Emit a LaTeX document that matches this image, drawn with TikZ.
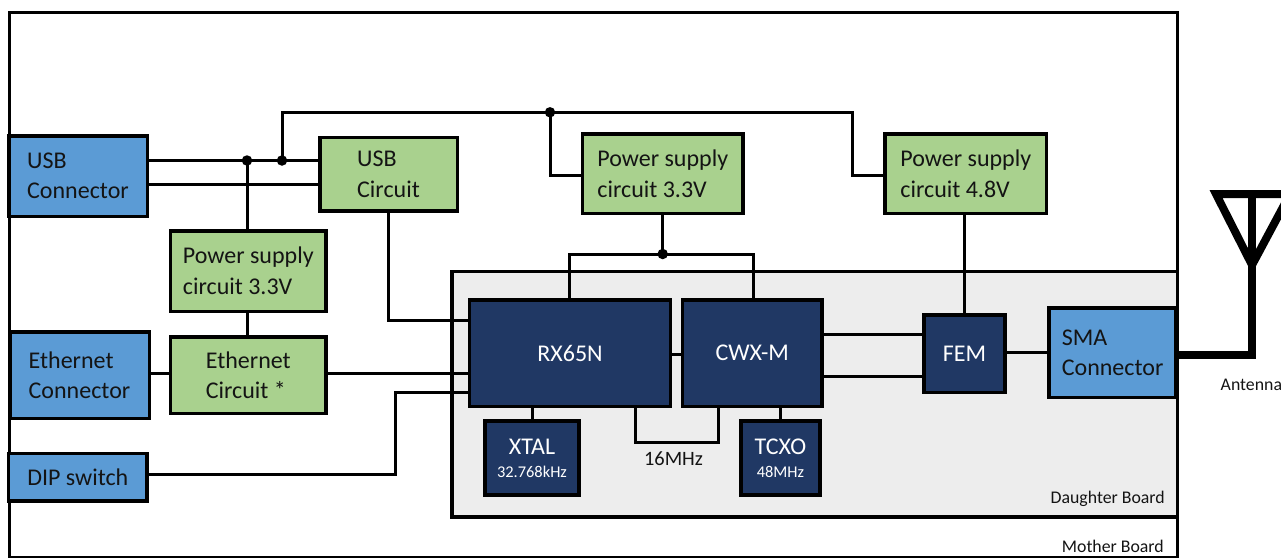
\documentclass[tikz,border=0pt]{standalone}
\usepackage{fontspec}
\setmainfont{Carlito}
\newcommand\fsB{\fontsize{24}{30.5}\selectfont}
\newcommand\fsM{\fontsize{20.4}{24}\selectfont}
\newcommand\fsS{\fontsize{16.4}{20}\selectfont}
\newcommand\fsL{\fontsize{17.8}{21}\selectfont}
\definecolor{cblue}{HTML}{5B9BD5}
\definecolor{cgreen}{HTML}{A9D18E}
\definecolor{cnavy}{HTML}{203864}
\definecolor{cgrey}{HTML}{EDEDED}
\definecolor{ctxt}{HTML}{141414}
\tikzset{
  box/.style={draw=black, line width=3.5pt, inner sep=0pt, align=left, font=\fsB, text=ctxt},
  bluebox/.style={box, fill=cblue},
  greenbox/.style={box, fill=cgreen},
  navybox/.style={box, fill=cnavy, text=white, align=center},
  wire/.style={line width=3pt},
  jdot/.style={circle, fill=black, inner sep=0pt, minimum size=10.5pt},
  ant/.style={line width=8pt, line join=miter},
  lbl/.style={inner sep=0pt, text=ctxt}
}
\begin{document}
\begin{tikzpicture}[x=1pt,y=-1pt]
\useasboundingbox (0,0) rectangle (1281,557);
% boards
\draw[line width=3.5pt, fill=white] (9.3,12.3) rectangle (1177.3,558.2);
\draw[line width=3.5pt, fill=cgrey] (452,271.5) rectangle (1177.3,517);
% junction coordinates
\coordinate (u2) at (0,184);
\coordinate (t2) at (852.7,112.3);
\coordinate (pw) at (0,175);
\coordinate (rxt) at (569,254);
\coordinate (cwt) at (753,254);
\coordinate (uc) at (388,320.3);
\coordinate (e) at (0,373.3);
\coordinate (d1) at (395,474.3);
\coordinate (d2) at (395,392.7);
\coordinate (rc) at (0,354);
\coordinate (m1) at (635,442);
\coordinate (m2) at (718,442);
\coordinate (f1) at (0,334.5);
\coordinate (f2) at (0,376.5);
\coordinate (pf) at (964,0);
\coordinate (fs) at (0,352.7);
\coordinate (a0) at (1252,354.7);
\coordinate (atop) at (1252,194);
\coordinate (al) at (1216,194);
\coordinate (ar) at (1290,194);
\coordinate (ab) at (1252,265);
% boxes
\node[bluebox, minimum width=138.5pt, minimum height=80.5pt] (usbconn) at (78,176) {USB\\Connector};
\node[greenbox, minimum width=137.5pt, minimum height=73.2pt] (usbcirc) at (388.5,174.3) {USB\\Circuit};
\node[greenbox, minimum width=155.2pt, minimum height=80.5pt] (psl) at (248.3,271) {Power supply\\circuit 3.3V};
\node[bluebox, minimum width=139.5pt, minimum height=86.5pt] (ethconn) at (79.5,375) {Ethernet\\Connector};
\node[greenbox, minimum width=155.2pt, minimum height=76.5pt] (ethcirc) at (248.3,375) {Ethernet\\Circuit *};
\node[bluebox, minimum width=138.8pt, minimum height=47.5pt] (dip) at (77.8,477.2) {DIP switch};
\node[greenbox, minimum width=160.8pt, minimum height=79.2pt] (ps33) at (662.8,173.7) {Power supply\\circuit 3.3V};
\node[greenbox, minimum width=161.5pt, minimum height=79.2pt] (ps48) at (965.8,173.7) {Power supply\\circuit 4.8V};
\node[navybox, minimum width=201.1pt, minimum height=106.5pt] (rx) at (570,353.3) {RX65N};
\node[navybox, minimum width=139.8pt, minimum height=106.2pt] (cwx) at (752.3,353.2) {CWX-M};
\node[navybox, minimum width=93.9pt, minimum height=73.9pt] (xtal) at (532,458) {XTAL\\[-7.5pt]{\fsS 32.768kHz}};
\node[navybox, minimum width=78.9pt, minimum height=73.9pt] (tcxo) at (780.5,458) {TCXO\\[-7.5pt]{\fsS 48MHz}};
\node[navybox, minimum width=80.9pt, minimum height=77.2pt] (fem) at (964.5,353.7) {FEM};
\node[bluebox, minimum width=127.2pt, minimum height=89.8pt] (sma) at (1112.6,352.7) {SMA\\Connector};
% junction dots
\node[jdot] (j1) at (247,160.5) {};
\node[jdot] (j2) at (282,160.5) {};
\node[jdot] (j3) at (550,112.3) {};
\node[jdot] (j4) at (662.7,254) {};
% wires
\draw[wire] (usbconn.east |- j1) -- (usbcirc.west |- j1);
\draw[wire] (usbconn.east |- u2) -- (usbcirc.west |- u2);
\draw[wire] (j1.center) -- (j1 |- psl.north);
\draw[wire] (psl.south -| j1) -- (ethcirc.north -| j1);
\draw[wire] (j2.center) |- (t2) |- (ps48.west |- pw);
\draw[wire] (j3.center) |- (ps33.west |- pw);
\draw[wire] (ps33.south -| j4) -- (j4.center);
\draw[wire] (rx.north -| rxt) -- (rxt) -- (cwt) -- (cwx.north -| cwt);
\draw[wire] (usbcirc.south -| uc) |- (rx.west |- uc);
\draw[wire] (ethconn.east |- e) -- (ethcirc.west |- e);
\draw[wire] (ethcirc.east |- e) -- (rx.west |- e);
\draw[wire] (dip.east |- d1) -- (d1) -- (d2) -- (rx.west |- d2);
\draw[wire] (rx.east |- rc) -- (cwx.west |- rc);
\draw[wire] (rx.south -| m1) -- (m1) -- (m2) -- (cwx.south -| m2);
\draw[wire] (xtal.north) -- (xtal.north |- rx.south);
\draw[wire] (tcxo.north) -- (tcxo.north |- cwx.south);
\draw[wire] (cwx.east |- f1) -- (fem.west |- f1);
\draw[wire] (cwx.east |- f2) -- (fem.west |- f2);
\draw[wire] (ps48.south -| pf) -- (fem.north -| pf);
\draw[wire] (fem.east |- fs) -- (sma.west |- fs);
% antenna
\draw[ant] (sma.east |- a0) -- (a0) -- (atop);
\draw[ant] (al) -- (ar) -- (ab) -- cycle;
% labels
\node[lbl, font=\fsM] (l16) at (673.5,459) {16MHz};
\node[lbl, font=\fsL, anchor=east] (db) at (1165,499) {Daughter Board};
\node[lbl, font=\fsL, anchor=east] (mb) at (1164,546.5) {Mother Board};
\node[lbl, font=\fsL, anchor=west] (antl) at (1220.5,385) {Antenna};
\end{tikzpicture}
\end{document}
